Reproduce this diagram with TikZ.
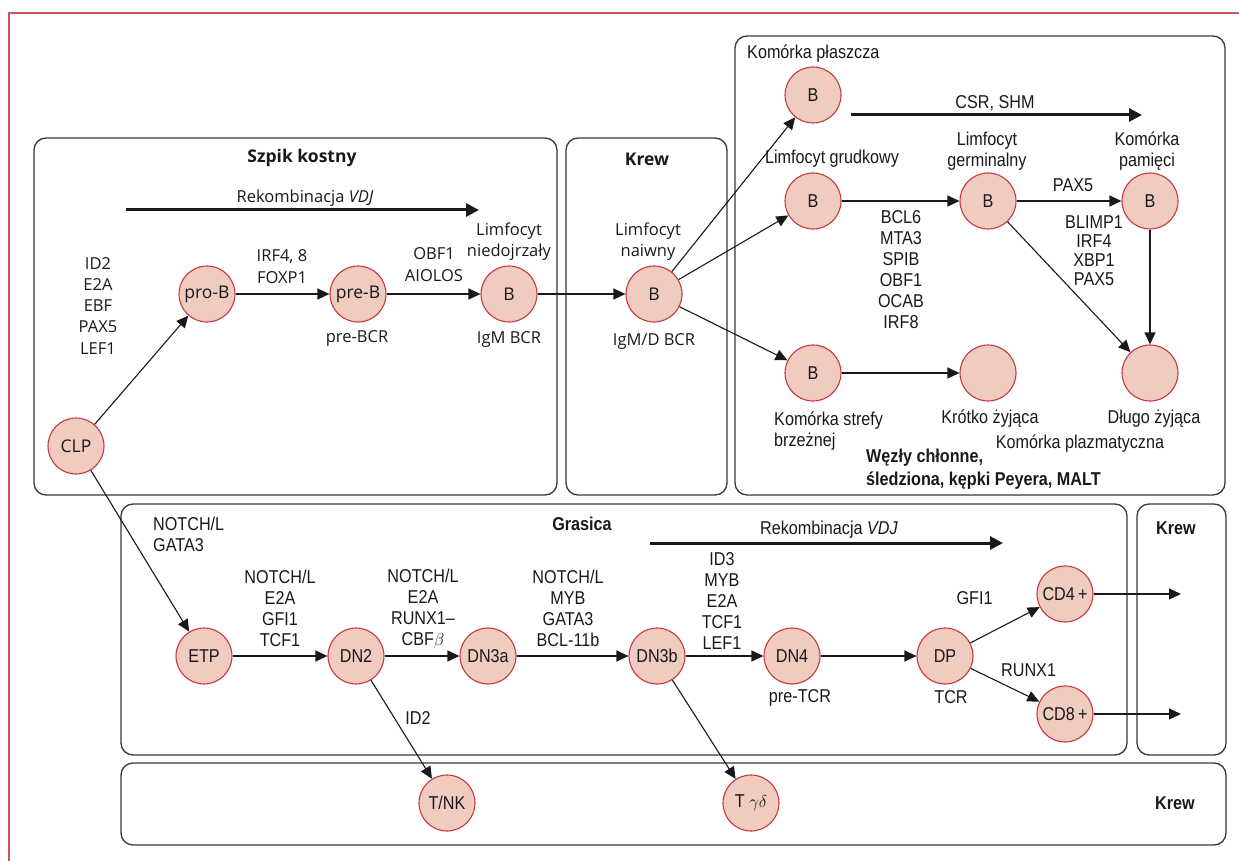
\documentclass[tikz,border=0pt]{standalone}
\usepackage{fontspec}
\usetikzlibrary{arrows.meta}
\newfontfamily\bmLfam{Open Sans}
\newfontfamily\bmRfam[FakeStretch=0.87]{Liberation Sans}
\newcommand\bmL{\bmLfam\fontsize{16.5}{21.3}\selectfont}
\newcommand\bmLc{\bmLfam\fontsize{17.5}{21.3}\selectfont}
\newcommand\bmR{\bmRfam\fontsize{18.6}{21}\selectfont}
\newcommand\bmRs{\bmRfam\fontsize{18.6}{19}\selectfont}
\definecolor{framered}{RGB}{205,85,85}
\definecolor{cellred}{RGB}{200,55,60}
\definecolor{cellfill}{RGB}{240,203,192}
\definecolor{boxgray}{RGB}{55,55,55}
\definecolor{txt}{RGB}{25,25,25}
\tikzset{
  cell/.style={circle, draw=cellred, fill=cellfill, line width=1.1pt, minimum size=56pt, inner sep=0pt, text=txt},
  lcell/.style={cell, font=\bmLc},
  rcell/.style={cell, font=\bmR},
  region/.style={draw=boxgray, line width=1.3pt, rounded corners=12pt},
  arr/.style={-{Triangle[length=12pt,width=11pt]}, line width=1.1pt, draw=txt},
  bigarr/.style={-{Triangle[length=13pt,width=13pt]}, line width=3pt, draw=txt},
  ltxt/.style={font=\bmL, align=center, inner sep=0pt, text=txt},
  rtxt/.style={font=\bmR, align=center, inner sep=0pt, text=txt},
  rstxt/.style={font=\bmRs, align=center, inner sep=0pt, text=txt},
}
\begin{document}
\begin{tikzpicture}[x=1pt,y=-1pt]
\useasboundingbox (0,0) rectangle (1239,861);
% outer frame
\draw[framered, line width=1.5pt] (9,861) -- (9,13) -- (1239,13);
% regions
\draw[region] (34,138) rectangle (557,495);
\draw[region] (566,138) rectangle (727,495);
\draw[region] (735,36) rectangle (1225,495);
\draw[region] (121,504) rectangle (1127,755);
\draw[region] (1137,504) rectangle (1226,755);
\draw[region] (121,763) rectangle (1226,845);

% ---------- B lineage cells ----------
\node[lcell] (clp) at (76,446) {CLP};
\node[lcell] (prob) at (207,294) {pro-B};
\node[lcell] (preb) at (358,294) {pre-B};
\node[lcell] (bimm) at (509,294) {B};
\node[lcell] (bnaive) at (654,294) {B};
\node[rcell] (bmantle) at (813,95) {B};
\node[rcell] (bfoll) at (813,201) {B};
\node[rcell] (bgerm) at (988,201) {B};
\node[rcell] (bmem) at (1150,201) {B};
\node[rcell] (bmz) at (813,373) {B};
\node[rcell] (short) at (988,373) {};
\node[rcell] (long) at (1150,373) {};

% ---------- T lineage cells ----------
\node[rcell] (etp) at (204,656) {ETP};
\node[rcell] (dn2) at (356,656) {DN2};
\node[rcell] (dn3a) at (488,656) {DN3a};
\node[rcell] (dn3b) at (657,656) {DN3b};
\node[rcell] (dn4) at (792,656) {DN4};
\node[rcell] (dp) at (945,656) {DP};
\node[rcell] (cd4) at (1065,594) {CD4\,+};
\node[rcell] (cd8) at (1065,714) {CD8\,+};
\node[rcell] (tnk) at (447,803) {T/NK};
\node[rcell] (tgd) at (751,803) {T $\gamma\delta$};

% ---------- connectors ----------
\draw[arr] (clp) -- (prob);
\draw[arr] (prob) -- (preb);
\draw[arr] (preb) -- (bimm);
\draw[arr] (bimm) -- (bnaive);
\draw[arr] (bnaive) -- (bmantle);
\draw[arr] (bnaive) -- (bfoll);
\draw[arr] (bnaive) -- (bmz);
\draw[arr] (bfoll) -- (bgerm);
\draw[arr] (bgerm) -- (bmem);
\draw[arr] (bgerm) -- (long);
\draw[arr] (bmem) -- (long);
\draw[arr] (bmz) -- (short);

\draw[arr] (clp) -- (etp);
\draw[arr] (etp) -- (dn2);
\draw[arr] (dn2) -- (dn3a);
\draw[arr] (dn3a) -- (dn3b);
\draw[arr] (dn3b) -- (dn4);
\draw[arr] (dn4) -- (dp);
\draw[arr] (dp) -- (cd4);
\draw[arr] (dp) -- (cd8);
\draw[arr] (dn2) -- (tnk);
\draw[arr] (dn3b) -- (tgd);
\coordinate (cd4end) at (1181,594);
\coordinate (cd8end) at (1181,714);
\draw[arr] (cd4) -- (cd4end);
\draw[arr] (cd8) -- (cd8end);

% thick process arrows
\coordinate (vdjAs) at (126,210);
\coordinate (vdjAe) at (479,210);
\draw[bigarr] (vdjAs) -- (vdjAe);
\coordinate (csrs) at (851,115);
\coordinate (csre) at (1142,115);
\draw[bigarr] (csrs) -- (csre);
\coordinate (vdjBs) at (650,543);
\coordinate (vdjBe) at (1003,543);
\draw[bigarr] (vdjBs) -- (vdjBe);

% ---------- labels: bone marrow & blood ----------
\node[ltxt, font=\bmLc\bfseries] (tszpik) at (302,158) {Szpik kostny};
\node[ltxt, font=\bmLc\bfseries] (tkrew1) at (647,159) {Krew};
\node[ltxt] (tvdjA) at (305,198) {Rekombinacja \textit{VDJ}};
\node[ltxt] (tclp) at (98,305.7) {ID2\\E2A\\EBF\\PAX5\\LEF1};
\node[ltxt] (tirf) at (282,266.5) {IRF4, 8\\FOXP1};
\node[ltxt] (tobf) at (434,264.5) {OBF1\\AIOLOS};
\node[ltxt] (timm) at (509,241.5) {Limfocyt\\niedojrzały};
\node[ltxt] (tprebcr) at (357,339) {pre-BCR};
\node[ltxt] (tigm) at (509,339.5) {IgM BCR};
\node[ltxt] (tnaive) at (648,242) {Limfocyt\\naiwny};
\node[ltxt] (tigmd) at (654,342) {IgM/D BCR};

% ---------- labels: lymph nodes ----------
\node[rtxt, anchor=west] (tmantle) at (747,54) {Komórka płaszcza};
\node[rtxt] (tcsr) at (995,103) {CSR, SHM};
\node[rtxt] (tfoll) at (832,159) {Limfocyt grudkowy};
\node[rtxt] (tgerm) at (987,151) {Limfocyt\\germinalny};
\node[rtxt] (tmem) at (1147,151) {Komórka\\pamięci};
\node[rtxt] (tbcl) at (901,269.3) {BCL6\\MTA3\\SPIB\\OBF1\\OCAB\\IRF8};
\node[rtxt] (tpax) at (1073,185) {PAX5};
\node[rstxt] (tblimp) at (1094,250.5) {BLIMP1\\IRF4\\XBP1\\PAX5};
\node[rtxt, anchor=west, align=left] (tmz) at (774,431) {Komórka strefy\\brzeżnej};
\node[rtxt] (tshort) at (990,419) {Krótko żyjąca};
\node[rtxt] (tlong) at (1154,419) {Długo żyjąca};
\node[rtxt] (tplasma) at (1080,444) {Komórka plazmatyczna};
\node[rtxt, anchor=west, align=left, font=\bmRfam\fontsize{18.6}{23}\selectfont\bfseries] (tlymph) at (866,469.5) {Węzły chłonne,\\śledziona, kępki Peyera, MALT};

% ---------- labels: thymus ----------
\node[rtxt, font=\bmR\bfseries] (tgrasica) at (582,524) {Grasica};
\node[rtxt, anchor=west, align=left] (tetp) at (153,534.5) {NOTCH/L\\GATA3};
\node[rtxt] (tdn2) at (280,608.5) {NOTCH/L\\E2A\\GFI1\\TCF1};
\node[rtxt] (tdn3a) at (423,608.5) {NOTCH/L\\E2A\\RUNX1–\\CBF$\beta$};
\node[rtxt] (tdn3b) at (568,608.5) {NOTCH/L\\MYB\\GATA3\\BCL-11b};
\node[rtxt] (tdn4) at (722,601) {ID3\\MYB\\E2A\\TCF1\\LEF1};
\node[rtxt] (tvdjB) at (829,530) {Rekombinacja \textit{VDJ}};
\node[rtxt] (tid2) at (418,718) {ID2};
\node[rtxt] (tpretcr) at (800,698) {pre-TCR};
\node[rtxt] (ttcr) at (951,697) {TCR};
\node[rtxt] (tgfi) at (974.5,598) {GFI1};
\node[rtxt] (trunx) at (1028.6,670) {RUNX1};
\node[rtxt, font=\bmR\bfseries] (tkrew2) at (1176,528) {Krew};
\node[rtxt, font=\bmR\bfseries] (tkrew3) at (1175,803) {Krew};
\end{tikzpicture}
\end{document}
